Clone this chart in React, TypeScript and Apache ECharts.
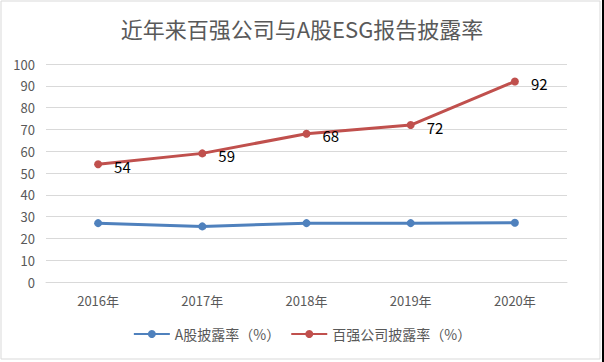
import React, { useEffect, useRef } from "react";
import * as echarts from "echarts";

const title = "近年来百强公司与A股ESG报告披露率";
const categories = ["2016年", "2017年", "2018年", "2019年", "2020年"];
const aShareName = "A股披露率（%）";
const aShareValues = [27, 25.5, 27, 27, 27.2];
const top100Name = "百强公司披露率（%）";
const top100Values = [54, 59, 68, 72, 92];

const FONT = "'Noto Sans CJK SC', 'Noto Sans', sans-serif";

export default function App() {
  const ref = useRef<HTMLDivElement>(null);
  useEffect(() => {
    if (!ref.current) return;
    const chart = echarts.init(ref.current, null, { renderer: "svg" });
    chart.setOption({
      animation: false,
      backgroundColor: "#ffffff",
      title: {
        text: title,
        left: "center",
        top: 12,
        textStyle: { fontFamily: FONT, fontSize: 22, fontWeight: "normal", color: "#595959" },
      },
      legend: {
        bottom: 16,
        left: "center",
        itemWidth: 36,
        itemHeight: 10,
        itemGap: 10,
        textStyle: { fontFamily: FONT, fontSize: 14, color: "#595959" },
        data: [aShareName, top100Name],
      },
      grid: { left: 46, right: 37, top: 64, bottom: 80 },
      xAxis: {
        type: "category",
        data: categories,
        boundaryGap: true,
        axisLine: { lineStyle: { color: "#d9d9d9" } },
        axisTick: { show: false },
        axisLabel: { fontFamily: FONT, fontSize: 13, color: "#595959", margin: 12 },
      },
      yAxis: {
        type: "value",
        min: 0,
        max: 100,
        interval: 10,
        axisLine: { show: false },
        axisTick: { show: false },
        splitLine: { lineStyle: { color: "#d9d9d9" } },
        axisLabel: { fontFamily: FONT, fontSize: 13, color: "#595959", margin: 11 },
      },
      graphic: [
        {
          type: "rect",
          shape: { x: 1, y: 1, width: 599, height: 358 },
          style: { fill: "none", stroke: "#d9d9d9", lineWidth: 1 },
          silent: true,
        },
        {
          type: "rect",
          shape: { x: 602, y: 0, width: 2, height: 362 },
          style: { fill: "#000000" },
          silent: true,
        },
      ],
      series: [
        {
          name: aShareName,
          type: "line",
          data: aShareValues,
          symbol: "circle",
          symbolSize: 8,
          lineStyle: { width: 3, color: "#4F81BD" },
          itemStyle: { color: "#4F81BD" },
        },
        {
          name: top100Name,
          type: "line",
          data: top100Values,
          symbol: "circle",
          symbolSize: 8,
          lineStyle: { width: 3, color: "#C0504D" },
          itemStyle: { color: "#C0504D" },
          label: {
            show: true,
            position: "right",
            distance: 12,
            fontFamily: FONT,
            fontSize: 15,
            color: "#000000",
            offset: [0, 2],
          },
        },
      ],
    });
    return () => chart.dispose();
  }, []);
  return (
    <div
      ref={ref}
      style={{ position: "fixed", left: 0, top: 0, width: 604, height: 362 }}
    />
  );
}
